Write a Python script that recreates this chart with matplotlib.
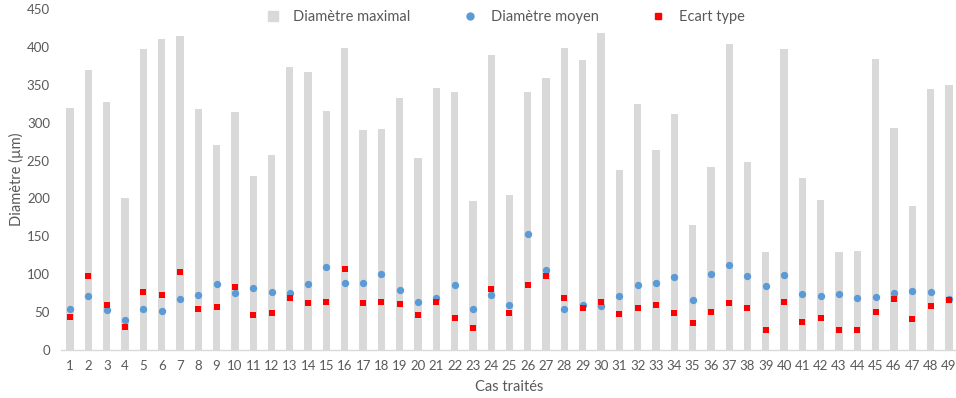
import matplotlib.pyplot as plt
from matplotlib.lines import Line2D
import numpy as np

plt.rcParams['font.family'] = ['Lato', 'DejaVu Sans']

cas = list(range(1, 50))

diam_max = [320, 370, 327, 200, 397, 410, 415, 318, 271, 314,
            229, 257, 373, 367, 316, 399, 290, 291, 332, 254,
            346, 340, 196, 389, 204, 340, 359, 398, 383, 418,
            237, 325, 264, 312, 165, 242, 404, 248, 129, 397,
            227, 198, 129, 130, 384, 293, 190, 345, 350]

diam_moyen = [54, 71, 53, 40, 54, 51.5, 67, 72, 87, 75,
              82, 76.5, 75, 87.5, 109, 89, 88, 100, 79, 64,
              69, 86, 54, 72.5, 60, 152.5, 106, 54, 59, 57.5,
              71, 86, 88, 96, 65.5, 100, 112.5, 97.5, 85, 98.5,
              73.5, 71.5, 73.5, 68.5, 70, 75, 78.5, 77, 67]

ecart_type = [44, 97.5, 59, 31, 77, 72, 103, 54.5, 56.5, 83,
              46.5, 49, 68.5, 61.5, 63, 107, 62, 63, 61, 46.5,
              63.5, 42, 28.5, 80.5, 48.5, 85.5, 97.5, 69, 56, 64,
              48, 55, 60, 49, 35, 50, 62, 56, 27, 63,
              37, 42, 27, 27, 50, 67, 41, 57.5, 65.5]

fig = plt.figure(figsize=(9.56, 3.98), dpi=100)
ax = fig.add_axes([61 / 956, 48 / 398, 897 / 956, 341 / 398])

x = np.arange(len(cas))
ax.bar(x, diam_max, width=0.4, color='#d9d9d9', zorder=1)
ax.scatter(x, diam_moyen, s=28, marker='o', color='#5b9bd5', linewidths=0, zorder=2)
ax.scatter(x, ecart_type, s=24, marker='s', color='#ff0000', linewidths=0, zorder=3)

ax.set_xlim(-0.5, len(cas) - 0.5)
ax.set_ylim(0, 450)
ax.set_yticks(range(0, 451, 50))
ax.set_xticks(x)
ax.set_xticklabels([str(c) for c in cas])

for side in ['top', 'right', 'left']:
    ax.spines[side].set_visible(False)
ax.spines['bottom'].set_color('#d9d9d9')
ax.spines['bottom'].set_linewidth(1)
ax.tick_params(axis='both', length=0, labelsize=9.5, colors='#595959')
ax.tick_params(axis='x', pad=7)
ax.tick_params(axis='y', pad=8)

ax.set_xlabel('Cas traités', fontsize=10.5, color='#595959', labelpad=6)
ax.set_ylabel('Diamètre (µm)', fontsize=10.5, color='#595959', labelpad=2)

handles = [
    Line2D([], [], ls='none', marker='s', ms=7, color='#d9d9d9'),
    Line2D([], [], ls='none', marker='o', ms=5, color='#5b9bd5'),
    Line2D([], [], ls='none', marker='s', ms=5, color='#ff0000'),
]
labels = ['Diamètre maximal', 'Diamètre moyen', 'Ecart type']
leg = fig.legend(handles, labels, loc='center', bbox_to_anchor=(505 / 956, 1 - 17 / 398),
                 ncol=3, frameon=False, fontsize=10.5, columnspacing=3.6,
                 handlelength=1.0, handletextpad=0.9)
for t in leg.get_texts():
    t.set_color('#595959')

fig.savefig('out.png', dpi=100)
